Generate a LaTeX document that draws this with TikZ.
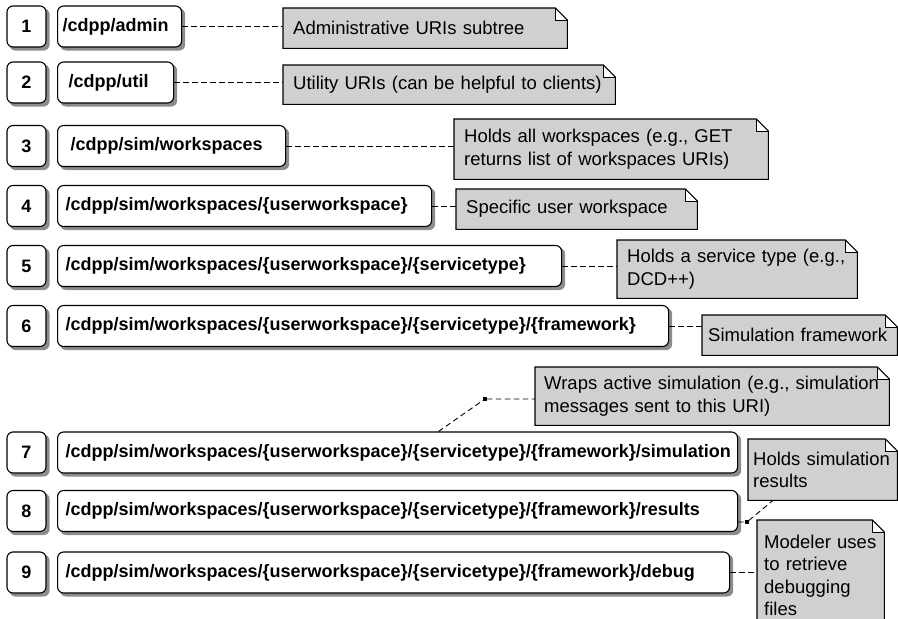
\documentclass[tikz,border=0pt]{standalone}
\usepackage{fontspec}
\setmainfont{Liberation Sans}
\usepackage{xcolor}
\usepackage{tikz}
\usetikzlibrary{positioning, backgrounds, calc}
\definecolor{notegray}{RGB}{208, 208, 208}
\definecolor{shadegray}{RGB}{140, 140, 140}
\tikzset{
  numbox/.style={rectangle, rounded corners=6pt, draw=black, fill=white,
              line width=1.1pt, minimum width=39pt, minimum height=41pt,
              inner sep=0pt, font=\fontsize{18}{22}\selectfont\bfseries},
  uribox/.style={rectangle, rounded corners=6pt, draw=black, fill=white,
              line width=1.1pt, text width=#1, align=left, minimum height=41pt,
              inner xsep=8pt, inner ysep=0pt,
              font=\fontsize{18}{22}\selectfont\bfseries},
  uribox/.default=120pt,
  notebox/.style={rectangle, anchor=north west, text width=#1, align=left,
              inner xsep=10pt, inner ysep=0pt,
              font=\fontsize{18.5}{22.5}\selectfont},
  notebox/.default=200pt,
  noteedge/.style={draw=black, line width=1.1pt, line join=miter},
  boxshade/.style={fill=shadegray, rounded corners=6pt},
  link/.style={dash pattern=on 5.5pt off 3.5pt, line width=0.9pt},
  knot/.style={rectangle, fill=black, minimum size=3.5pt, inner sep=0pt},
}

\begin{document}
\begin{tikzpicture}[x=1pt, y=-1pt]
  \useasboundingbox (0,0) rectangle (898,619);
  \clip (0,0) rectangle (898,619);

  % row numbers
  \node[numbox] (n1) at (26.5,26.5) {1};
  \node[numbox] (n2) at (26.5,82.5) {2};
  \node[numbox] (n3) at (26.5,146) {3};
  \node[numbox] (n4) at (26.5,206) {4};
  \node[numbox] (n5) at (26.5,266) {5};
  \node[numbox] (n6) at (26.5,326) {6};
  \node[numbox] (n7) at (26.5,452.5) {7};
  \node[numbox] (n8) at (26.5,511) {8};
  \node[numbox] (n9) at (26.5,572.5) {9};

  % URIs
  \node[uribox=114pt, inner xsep=5pt, right=10.5pt of n1] (u1) {/cdpp/admin};
  \node[uribox=94pt, inner xsep=11pt, right=10.5pt of n2] (u2) {/cdpp/util};
  \node[uribox=202pt, inner xsep=13pt, right=10.5pt of n3] (u3) {/cdpp/sim/workspaces};
  \node[uribox=358pt, right=10.5pt of n4] (u4) {/cdpp/sim/workspaces/\{userworkspace\}};
  \node[uribox=488pt, right=10.5pt of n5] (u5) {/cdpp/sim/workspaces/\{userworkspace\}/\{servicetype\}};
  \node[uribox=595pt, right=10.5pt of n6] (u6) {/cdpp/sim/workspaces/\{userworkspace\}/\{servicetype\}/\{framework\}};
  \node[uribox=664pt, right=10.5pt of n7] (u7) {/cdpp/sim/workspaces/\{userworkspace\}/\{servicetype\}/\{framework\}/simulation};
  \node[uribox=664pt, right=10.5pt of n8] (u8) {/cdpp/sim/workspaces/\{userworkspace\}/\{servicetype\}/\{framework\}/results};
  \node[uribox=656pt, right=10.5pt of n9] (u9) {/cdpp/sim/workspaces/\{userworkspace\}/\{servicetype\}/\{framework\}/debug};

  % notes
  \node[notebox=264pt, minimum height=40pt] (t1) at (283,8) {Administrative URIs subtree};
  \node[notebox=312pt, minimum height=39pt] (t2) at (283,65) {Utility URIs (can be helpful to clients)};
  \node[notebox=294pt, minimum height=60pt] (t3) at (454,119) {Holds all workspaces (e.g., GET\\returns list of workspaces URIs)};
  \node[notebox=221pt, minimum height=40pt] (t4) at (456,189) {Specific user workspace};
  \node[notebox=220pt, minimum height=58pt] (t5) at (617,240) {Holds a service type (e.g.,\\DCD++)};
  \node[notebox=183pt, inner xsep=6pt, minimum height=40pt] (t6) at (702,315) {Simulation framework};
  \node[notebox=336pt, inner xsep=9pt, minimum height=58pt] (t7) at (535,367) {Wraps active simulation (e.g., simulation\\messages sent to this URI)};
  \node[notebox=139pt, inner xsep=5pt, minimum height=61pt] (t8) at (748,439) {Holds simulation\\results};
  \node[notebox=113pt, inner xsep=7pt, minimum height=110pt] (t9) at (757,520) {Modeler uses\\to retrieve\\debugging\\files};

  \begin{scope}[on background layer]
    \foreach \i in {1,...,9}{
      \fill[boxshade] ($(n\i.south west)+(3,3)$) rectangle ($(n\i.north east)+(3,3)$);
      \fill[boxshade] ($(u\i.south west)+(3,3)$) rectangle ($(u\i.north east)+(3,3)$);
      \fill[notegray] (t\i.south west) -- (t\i.north west) -- ($(t\i.north east)+(-12,0)$)
        -- ++(0,12) -- ($(t\i.north east)+(0,12)$) -- (t\i.south east) -- cycle;
      \draw[noteedge] (t\i.south west) -- (t\i.north west) -- ($(t\i.north east)+(-12,0)$)
        -- ($(t\i.north east)+(0,12)$) -- (t\i.south east) -- cycle;
      \draw[noteedge, line width=0.8pt] ($(t\i.north east)+(-12,0)$) -- ++(0,12) -- ++(12,0);
    }
  \end{scope}

  % connectors
  \draw[link] (u1.east) -- (u1.east -| t1.west);
  \draw[link] (u2.east) -- (u2.east -| t2.west);
  \draw[link] (u3.east) -- (u3.east -| t3.west);
  \draw[link] (u4.east) -- (u4.east -| t4.west);
  \draw[link] (u5.east) -- (u5.east -| t5.west);
  \draw[link] (u6.east) -- (u6.east -| t6.west);
  \node[knot] (k7) at (485,399) {};
  \draw[link] ($(u7.north west)!0.56!(u7.north east)$) -- (k7) -- (k7 -| t7.west);
  \node[knot] (k8) at (747,522) {};
  \draw[link] (u8.east |- k8) -- (k8) -- ($(t8.south west)+(25,0)$);
  \draw[link] (u9.east) -- (u9.east -| t9.west);
\end{tikzpicture}
\end{document}
